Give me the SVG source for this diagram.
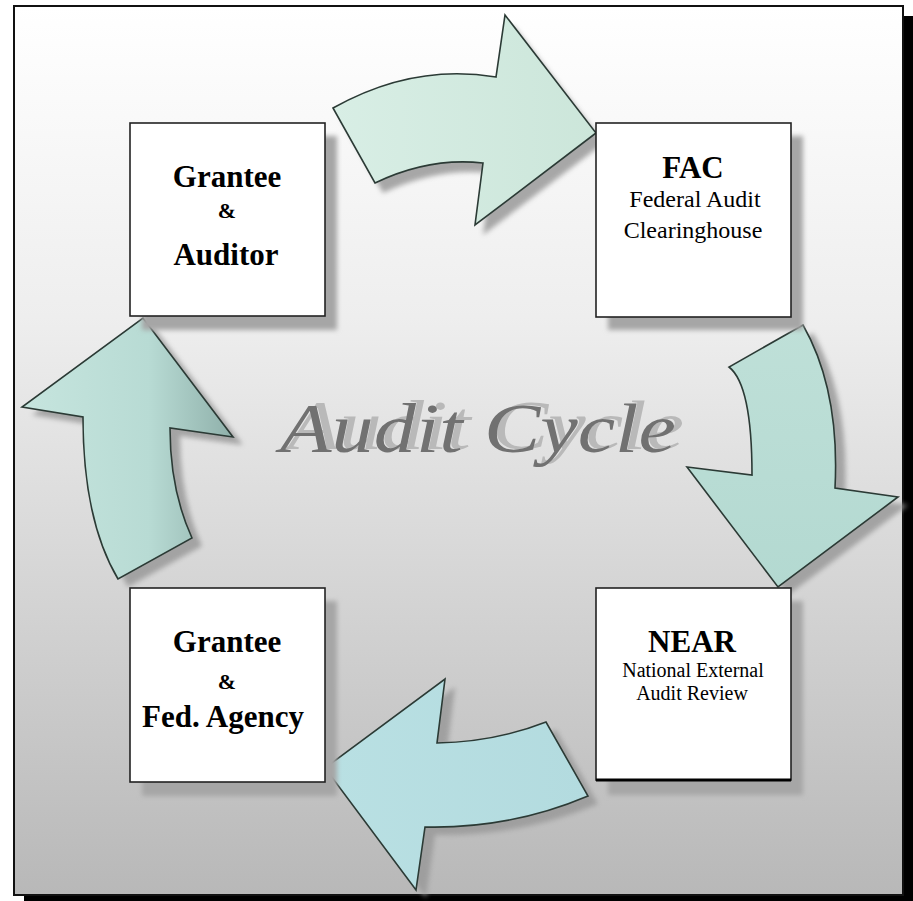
<svg xmlns="http://www.w3.org/2000/svg" width="913" height="901" viewBox="0 0 913 901">
  <defs>
    <linearGradient id="bg" x1="0" y1="0" x2="0" y2="1">
      <stop offset="0" stop-color="#ffffff"/>
      <stop offset="0.35" stop-color="#eeeeee"/>
      <stop offset="1" stop-color="#b8b8b8"/>
    </linearGradient>
    <linearGradient id="gTop" gradientUnits="userSpaceOnUse" x1="333" y1="0" x2="596" y2="0">
      <stop offset="0" stop-color="#d8eee5"/>
      <stop offset="1" stop-color="#cce6da"/>
    </linearGradient>
    <linearGradient id="gRight" gradientUnits="userSpaceOnUse" x1="0" y1="325" x2="0" y2="587">
      <stop offset="0" stop-color="#bfe0d8"/>
      <stop offset="1" stop-color="#b3d9d1"/>
    </linearGradient>
    <linearGradient id="gBottom" gradientUnits="userSpaceOnUse" x1="325" y1="0" x2="588" y2="0">
      <stop offset="0" stop-color="#b9e0e3"/>
      <stop offset="1" stop-color="#b3dbdf"/>
    </linearGradient>
    <linearGradient id="gLeft" gradientUnits="userSpaceOnUse" x1="22" y1="0" x2="233" y2="0">
      <stop offset="0" stop-color="#c6e5de"/>
      <stop offset="0.6" stop-color="#b8dbd4"/>
      <stop offset="1" stop-color="#8fb0aa"/>
    </linearGradient>
    <filter id="blur" x="-10%" y="-10%" width="120%" height="120%">
      <feGaussianBlur stdDeviation="2.5"/>
    </filter>
    <filter id="titleShadow" x="-5%" y="-20%" width="110%" height="140%">
      <feFlood flood-color="#b9b9b9" result="c"/>
      <feComposite in="c" in2="SourceAlpha" operator="in" result="s"/>
      <feOffset in="s" dx="8" dy="-3" result="so"/>
      <feMerge>
        <feMergeNode in="so"/>
        <feMergeNode in="SourceGraphic"/>
      </feMerge>
    </filter>
  </defs>
  <style>
    .frame { fill: url(#bg); stroke: #111; stroke-width: 2; }
    .box { fill: #ffffff; stroke: #222; stroke-width: 1.6; }
    .boxsh { fill: #a6a6a6; filter: url(#blur); }
    .arrsh { fill: #9a9a9a; filter: url(#blur); opacity: 0.85; }
    .arrow { stroke: #2b3a35; stroke-width: 1.6; stroke-linejoin: miter; }
    .t { font-family: "Liberation Serif", "Times New Roman", serif; fill: #000; text-anchor: middle; }
    .b { font-weight: bold; }
    .title { font-family: "Liberation Serif", "Times New Roman", serif; font-style: italic; font-size: 70px; fill: #717171; filter: url(#titleShadow); }
  </style>

  <!-- frame -->
  <rect x="24" y="16" width="889" height="885" fill="#000"/>
  <rect class="frame" x="14" y="6" width="889" height="889"/>

  <!-- title -->
  <g id="title">
    <text class="title" x="280" y="452" textLength="396" lengthAdjust="spacingAndGlyphs">Audit Cycle</text>
  </g>

  <!-- connectors (curved arrows) -->
  <g id="connectors">
    <g id="arrow-top">
      <path class="arrsh" transform="translate(8,10)" d="M333,108 Q413,63 496,77 L505,15 L596,133 L475,225 L483,163 Q429,157 375,183 Z"/>
      <path class="arrow" fill="url(#gTop)" d="M333,108 Q413,63 496,77 L505,15 L596,133 L475,225 L483,163 Q429,157 375,183 Z"/>
    </g>
    <g id="arrow-right">
      <path class="arrsh" transform="translate(10,8)" d="M803,325 L729,367 Q752,385 752,475 L687,467 L778,587 L898,497 L835,488 Q840,390 803,325 Z"/>
      <path class="arrow" fill="url(#gRight)" d="M803,325 L729,367 Q752,385 752,475 L687,467 L778,587 L898,497 L835,488 Q840,390 803,325 Z"/>
    </g>
    <g id="arrow-bottom">
      <path class="arrsh" transform="translate(10,8)" d="M325,768 L445,679 L437,743 Q495,742 546,722 L588,796 Q510,829 425,827 L416,890 Z"/>
      <path class="arrow" fill="url(#gBottom)" d="M325,768 L445,679 L437,743 Q495,742 546,722 L588,796 Q510,829 425,827 L416,890 Z"/>
    </g>
    <g id="arrow-left">
      <path class="arrsh" transform="translate(10,8)" d="M143,318 L233,437 L170,428 Q170,490 192,538 L118,579 Q83,520 83,417 L22,407 Z"/>
      <path class="arrow" fill="url(#gLeft)" d="M143,318 L233,437 L170,428 Q170,490 192,538 L118,579 Q83,520 83,417 L22,407 Z"/>
    </g>
  </g>

  <!-- nodes -->
  <g id="node-grantee-auditor">
    <rect class="boxsh" x="142" y="136" width="195" height="194"/>
    <rect class="box" x="130" y="123" width="195" height="193"/>
    <text class="t b" x="227" y="187" font-size="31">Grantee</text>
    <text class="t b" x="227" y="218" font-size="22">&amp;</text>
    <text class="t b" x="226" y="265" font-size="31">Auditor</text>
  </g>

  <g id="node-fac">
    <rect class="boxsh" x="608" y="136" width="195" height="194"/>
    <rect class="box" x="596" y="123" width="195" height="194"/>
    <text class="t b" x="693" y="178" font-size="31">FAC</text>
    <text class="t" x="695" y="207" font-size="24">Federal Audit</text>
    <text class="t" x="693" y="238" font-size="24">Clearinghouse</text>
  </g>

  <g id="node-near">
    <rect class="boxsh" x="608" y="601" width="195" height="194"/>
    <rect class="box" x="596" y="588" width="195" height="192"/>
    <line x1="596" y1="780" x2="791" y2="780" stroke="#000" stroke-width="3"/>
    <text class="t b" x="692" y="652" font-size="31">NEAR</text>
    <text class="t" x="693" y="677" font-size="20">National External</text>
    <text class="t" x="692" y="700" font-size="20">Audit Review</text>
  </g>

  <g id="node-grantee-agency">
    <rect class="boxsh" x="142" y="601" width="195" height="195"/>
    <rect class="box" x="130" y="588" width="195" height="194"/>
    <text class="t b" x="227" y="652" font-size="31">Grantee</text>
    <text class="t b" x="227" y="689" font-size="22">&amp;</text>
    <text class="t b" x="223" y="727" font-size="31">Fed. Agency</text>
  </g>
</svg>
